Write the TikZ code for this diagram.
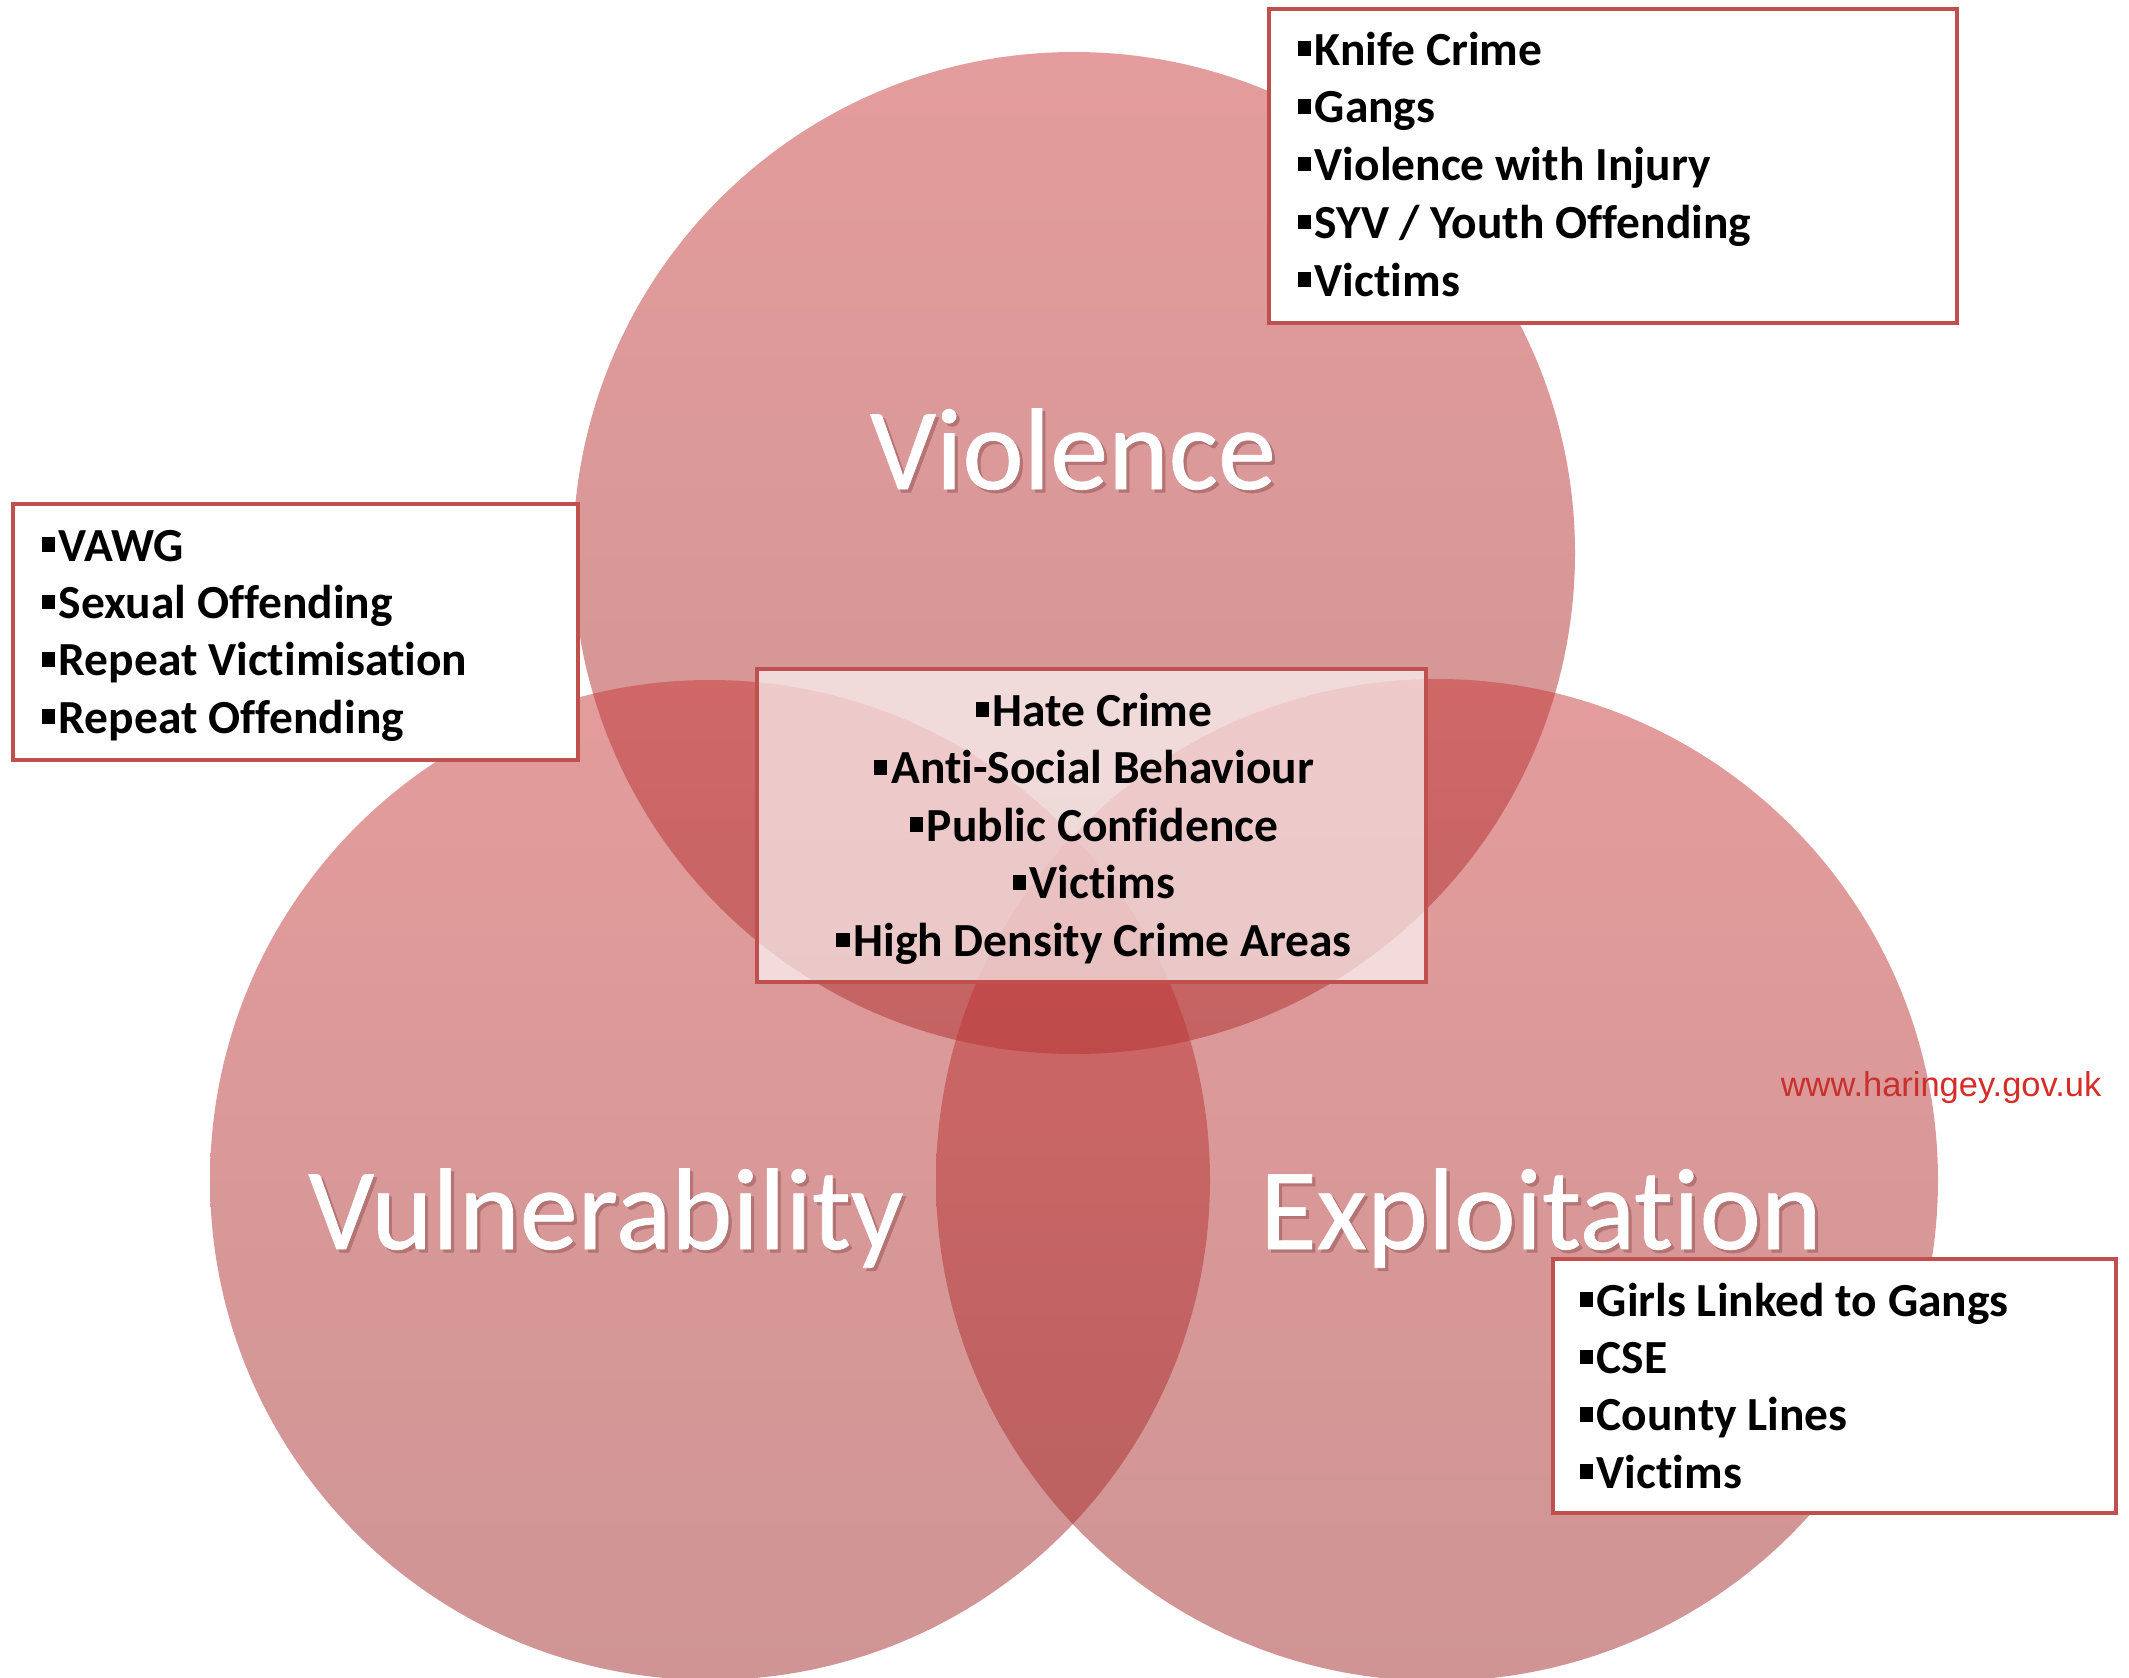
\documentclass[tikz,border=0pt]{standalone}
\usepackage{fontspec}
\setmainfont{Carlito}[Ligatures={NoCommon}]
\newfontfamily\labelfont{Carlito}[FakeBold=0.6,Ligatures={NoCommon}]
\newfontfamily\webfont{Liberation Sans}
\definecolor{boxred}{RGB}{192,80,77}
\definecolor{ctop}{RGB}{201,57,57}
\definecolor{cbot}{RGB}{160,42,42}
\definecolor{webred}{RGB}{215,45,40}
\definecolor{shadowc}{RGB}{180,116,116}
\newcommand\bul{\rule[0.19em]{0.28em}{0.31em}\hspace{0.08em}}
\newcommand\shadowed[1]{\rlap{\kern0.9pt\raisebox{-0.9pt}{\color{shadowc}#1}}#1}
\begin{document}
\begin{tikzpicture}[x=0.01cm,y=-0.01cm,
  venn/.style={top color=ctop,bottom color=cbot,opacity=0.5},
  listbox/.style={draw=boxred,line width=1.35pt,fill=white},
  centrebox/.style={draw=boxred,line width=1.35pt,fill=white,fill opacity=0.65},
  item/.style={inner sep=0pt,font=\fontsize{13.5}{16}\selectfont\bfseries,text=black},
  biglabel/.style={inner sep=0pt,font=\labelfont\fontsize{33}{40}\selectfont,text=white},
  web/.style={inner sep=0pt,font=\webfont\fontsize{9.8}{12}\selectfont,text=webred}]
\useasboundingbox (0,0) rectangle (2129,1678);
\clip (0,0) rectangle (2129,1678);
% circles
\shade[venn] (1074,553) circle (501);
\shade[venn] (710,1180) circle (500);
\node[web,anchor=base east] (web) at (2102,1096) {www.haringey.gov.uk};
\shade[venn] (1437,1180) circle (501);
% labels
\node[biglabel,anchor=base] (violence) at (1073,489) {\shadowed{Violence}};
\node[biglabel,anchor=base] (vulnerability) at (606,1249) {\shadowed{Vulnerability}};
\node[biglabel,anchor=base] (exploitation) at (1541,1249) {\shadowed{Exploitation}};
% top-right box
\draw[listbox] (1269,9) rectangle (1957,323);
\foreach \t [count=\i] in {Knife Crime,Gangs,Violence with Injury,SYV / Youth Offending,Victims}
  \node[item,anchor=base west] (tr\i) at (1297,65+57.75*\i-57.75) {\bul\t};
% left box
\draw[listbox] (13,504) rectangle (578,760);
\foreach \t [count=\i] in {VAWG,Sexual Offending,Repeat Victimisation,Repeat Offending}
  \node[item,anchor=base west] (lf\i) at (41,561+57.4*\i-57.4) {\bul\t};
% centre box
\draw[centrebox] (757,669) rectangle (1426,982);
\foreach \t [count=\i] in {Hate Crime,Anti-Social Behaviour,Public Confidence,Victims,High Density Crime Areas}
  \node[item,anchor=base] (ct\i) at (1094,726+57.6*\i-57.6) {\bul\t};
% bottom-right box
\draw[listbox] (1553,1259) rectangle (2116,1513);
\foreach \t [count=\i] in {Girls Linked to Gangs,CSE,County Lines,Victims}
  \node[item,anchor=base west] (br\i) at (1579,1316+57.4*\i-57.4) {\bul\t};
\end{tikzpicture}
\end{document}
